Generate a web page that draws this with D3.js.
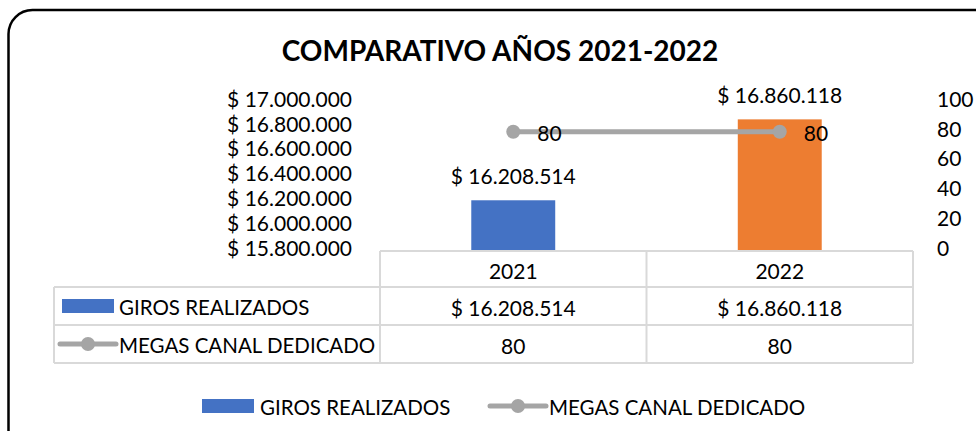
<!DOCTYPE html>
<html>
<head>
<meta charset="utf-8">
<script src="https://cdn.jsdelivr.net/npm/d3@7"></script>
<style>
  body { margin: 0; background: #fff; }
  svg text { font-family: Lato, "Open Sans", sans-serif; fill: #000; }
</style>
</head>
<body>
<svg width="976" height="431"></svg>
<script>
var years = ["2021", "2022"];
var giros = [16208514, 16860118];
var megas = [80, 80];
var leftTicks = [15800000, 16000000, 16200000, 16400000, 16600000, 16800000, 17000000];
var rightTicks = [0, 20, 40, 60, 80, 100];
var seriesNames = ["GIROS REALIZADOS", "MEGAS CANAL DEDICADO"];

var barColors = ["#4472C4", "#ED7D31"],
    lineColor = "#A5A5A5",
    gridColor = "#D9D9D9";

var numSize = "21px", txtSize = "20.5px";

var svg = d3.select("svg");

var loc = d3.formatLocale({decimal: ",", thousands: ".", grouping: [3], currency: ["$ ", ""]});
var money = loc.format("$,.0f");

// outer frame
svg.append("rect")
    .attr("x", 8.5).attr("y", 10)
    .attr("width", 990).attr("height", 450)
    .attr("rx", 24).attr("ry", 24)
    .attr("fill", "none")
    .attr("stroke", "#000")
    .attr("stroke-width", 2.5);

svg.append("text")
    .attr("x", 500).attr("y", 50)
    .attr("text-anchor", "middle")
    .attr("dominant-baseline", "central")
    .style("font-weight", "bold")
    .style("font-size", "28px")
    .text("COMPARATIVO AÑOS 2021-2022");

var x = d3.scaleBand().domain(years).range([380, 913]);
var xBar = d3.scaleBand().domain(years).range([380, 913])
    .paddingInner(0.685).paddingOuter(0.3425);

var y = d3.scaleLinear().domain([15800000, 17000000]).range([251, 102]);
var y2 = d3.scaleLinear().domain([0, 100]).range([251, 102]);

// axes (labels only, Excel style)
var axL = svg.append("g")
    .attr("transform", "translate(352,0)")
    .call(d3.axisLeft(y).tickValues(leftTicks).tickFormat(money).tickSize(0).tickPadding(0));
axL.select(".domain").remove();
axL.selectAll("text")
    .attr("dy", "0.3em")
    .attr("transform", "translate(0,-2)")
    .style("font-size", numSize)
    .style("font-family", "Lato");

var axR = svg.append("g")
    .attr("transform", "translate(937,0)")
    .call(d3.axisRight(y2).tickValues(rightTicks).tickFormat(d3.format("d")).tickSize(0).tickPadding(0));
axR.select(".domain").remove();
axR.selectAll("text")
    .attr("dy", "0.3em")
    .attr("transform", "translate(0,-2)")
    .style("font-size", numSize)
    .style("font-family", "Lato");

// bars
svg.selectAll(".bar")
    .data(giros)
    .enter().append("rect")
    .attr("class", "bar")
    .attr("x", function (d, i) { return xBar(years[i]); })
    .attr("width", xBar.bandwidth())
    .attr("y", function (d) { return y(d); })
    .attr("height", function (d) { return y(15800000) - y(d); })
    .attr("fill", function (d, i) { return barColors[i]; });

svg.selectAll(".barLabel")
    .data(giros)
    .enter().append("text")
    .attr("class", "barLabel")
    .attr("x", function (d, i) { return x(years[i]) + x.bandwidth() / 2; })
    .attr("y", function (d) { return y(d) - 25; })
    .attr("text-anchor", "middle")
    .attr("dominant-baseline", "central")
    .style("font-size", numSize)
    .text(money);

// line
var line = d3.line()
    .x(function (d, i) { return x(years[i]) + x.bandwidth() / 2; })
    .y(function (d) { return y2(d); });

svg.append("path")
    .datum(megas)
    .attr("d", line)
    .attr("fill", "none")
    .attr("stroke", lineColor)
    .attr("stroke-width", 5);

svg.selectAll(".marker")
    .data(megas)
    .enter().append("circle")
    .attr("cx", function (d, i) { return x(years[i]) + x.bandwidth() / 2; })
    .attr("cy", function (d) { return y2(d); })
    .attr("r", 7)
    .attr("fill", lineColor);

svg.selectAll(".lineLabel")
    .data(megas)
    .enter().append("text")
    .attr("x", function (d, i) { return x(years[i]) + x.bandwidth() / 2 + 24; })
    .attr("y", function (d) { return y2(d) + 1; })
    .attr("dominant-baseline", "central")
    .style("font-size", numSize)
    .text(function (d) { return d; });

// data table
var rowY = [251, 287, 325, 363];
var tbl = svg.append("g")
    .attr("stroke", gridColor)
    .attr("stroke-width", 2)
    .attr("fill", "none");

tbl.append("line").attr("x1", 380).attr("x2", 913).attr("y1", rowY[0]).attr("y2", rowY[0]);
rowY.slice(1).forEach(function (ry) {
    tbl.append("line").attr("x1", 54).attr("x2", 913).attr("y1", ry).attr("y2", ry);
});
tbl.append("line").attr("x1", 54).attr("x2", 54).attr("y1", rowY[1]).attr("y2", rowY[3]);
years.forEach(function (yr) {
    tbl.append("line").attr("x1", x(yr)).attr("x2", x(yr)).attr("y1", rowY[0]).attr("y2", rowY[3]);
});
tbl.append("line").attr("x1", 913).attr("x2", 913).attr("y1", rowY[0]).attr("y2", rowY[3]);

var rows = [years, giros.map(money), megas.map(String)];
rows.forEach(function (vals, r) {
    svg.selectAll(".cell" + r)
        .data(vals)
        .enter().append("text")
        .attr("x", function (d, i) { return x(years[i]) + x.bandwidth() / 2; })
        .attr("y", (rowY[r] + rowY[r + 1]) / 2 + 1)
        .attr("text-anchor", "middle")
        .attr("dominant-baseline", "central")
        .style("font-size", numSize)
        .text(function (d) { return d; });
});

// legend keys (table + bottom legend)
function drawKey(g, idx, kx, ky) {
    if (idx === 0) {
        g.append("rect").attr("x", kx).attr("y", ky - 7).attr("width", 52).attr("height", 14)
            .attr("fill", barColors[0]);
    } else {
        g.append("line").attr("x1", kx).attr("x2", kx + 56).attr("y1", ky).attr("y2", ky)
            .attr("stroke", lineColor).attr("stroke-width", 5).attr("stroke-linecap", "round");
        g.append("circle").attr("cx", kx + 28).attr("cy", ky).attr("r", 7).attr("fill", lineColor);
    }
}

seriesNames.forEach(function (name, i) {
    var cy = (rowY[i + 1] + rowY[i + 2]) / 2;
    var g = svg.append("g");
    drawKey(g, i, i === 0 ? 62 : 60, cy);
    g.append("text")
        .attr("x", 119).attr("y", cy + 1)
        .attr("dominant-baseline", "central")
        .style("font-size", txtSize)
        .text(name);
});

var legX = [202, 490], legTextX = [260, 549];
seriesNames.forEach(function (name, i) {
    var g = svg.append("g");
    drawKey(g, i, legX[i], 406);
    g.append("text")
        .attr("x", legTextX[i]).attr("y", 407)
        .attr("dominant-baseline", "central")
        .style("font-size", txtSize)
        .text(name);
});
</script>
</body>
</html>
